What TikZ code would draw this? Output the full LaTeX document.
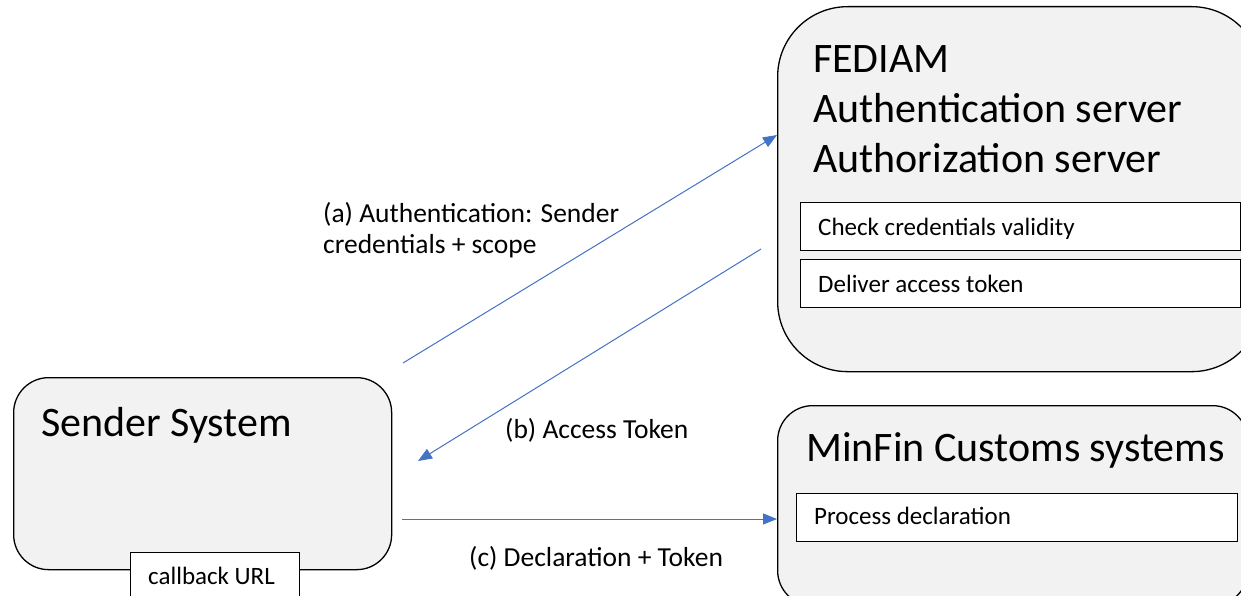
\documentclass[tikz,border=0pt]{standalone}
\usepackage{fontspec}
\setmainfont{Carlito}
\usetikzlibrary{arrows.meta}
\definecolor{boxgray}{HTML}{F2F2F2}
\definecolor{arrowblue}{HTML}{4472C4}
\begin{document}
\begin{tikzpicture}[x=1pt,y=-1pt,
  bigbox/.style={draw=black, line width=1.3pt, fill=boxgray, anchor=north west, inner sep=0pt},
  subbox/.style={draw=black, line width=1.3pt, fill=white, anchor=north west, inner sep=0pt},
  head/.style={anchor=base west, inner sep=0pt, font=\fontsize{42}{50}\selectfont},
  small/.style={anchor=base west, inner sep=0pt, font=\fontsize{25}{30}\selectfont},
  lab/.style={anchor=base west, inner sep=0pt, font=\fontsize{27.5}{31}\selectfont},
  flow/.style={draw=arrowblue, line width=1pt, -{Triangle[length=14pt,width=11pt]}}]
\useasboundingbox (0,0) rectangle (1241,596);
\clip (0,0) rectangle (1241,596);

\node[bigbox, rounded corners=70pt, minimum width=484pt, minimum height=365pt] (fed) at (777,6) {};
\node[bigbox, rounded corners=35pt, minimum width=470pt, minimum height=200pt] (minfin) at (777,405) {};
\node[bigbox, rounded corners=35pt, minimum width=378pt, minimum height=192pt] (sender) at (13,377) {};

\node[head] (fedt1) at (813,73) {FEDIAM};
\node[head] (fedt2) at (813,123) {Authentication server};
\node[head] (fedt3) at (813,173) {Authorization server};
\node[head] (mint) at (806,461) {MinFin Customs systems};
\node[head] (sendt) at (41,436) {Sender System};

\node[subbox, minimum width=440pt, minimum height=48pt] (check) at (800,202) {};
\node[small] (checkt) at (818,235) {Check credentials validity};
\node[subbox, minimum width=440pt, minimum height=48pt] (deliver) at (800,259) {};
\node[small] (delivert) at (818,292) {Deliver access token};
\node[subbox, minimum width=441pt, minimum height=48pt] (proc) at (796,493) {};
\node[small] (proct) at (814,524) {Process declaration};
\node[subbox, minimum width=169pt, minimum height=60pt] (cb) at (130,552) {};
\node[small] (cbt) at (148,584) {callback URL};

\node[lab] (la1) at (323,222) {(a) Authentication: Sender};
\node[lab] (la2) at (323,253) {credentials + scope};
\node[lab] (lb) at (505,438) {(b) Access Token};
\node[lab] (lc) at (469,566) {(c) Declaration + Token};

\coordinate (a0) at (403,363);
\coordinate (atip) at (777,135);
\coordinate (b0) at (761,249);
\coordinate (btip) at (418,461);
\coordinate (c0) at (402,519);
\coordinate (ctip) at (777,519);
\draw[flow] (a0) -- (atip);
\draw[flow] (b0) -- (btip);
\draw[flow] (c0) -- (ctip);
\end{tikzpicture}
\end{document}
